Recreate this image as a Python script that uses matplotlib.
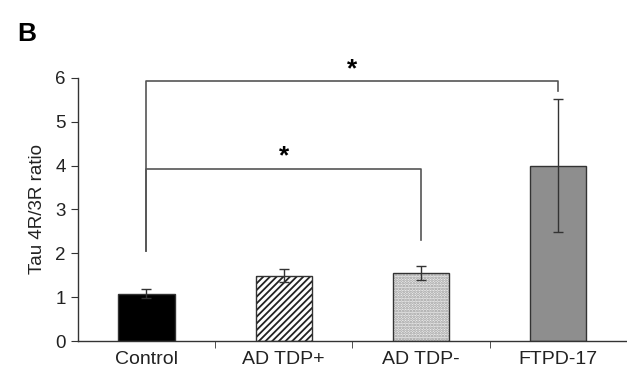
import numpy as np
import matplotlib
matplotlib.use("Agg")
import matplotlib.pyplot as plt

plt.rcParams['font.family'] = ['Liberation Sans', 'DejaVu Sans']
plt.rcParams['hatch.linewidth'] = 1.3

groups = ["Control", "AD TDP+", "AD TDP-", "FTPD-17"]
ratio = [1.08, 1.49, 1.55, 4.0]
err = [0.11, 0.15, 0.16, 1.52]
fills = ["black", "white", "#ececec", "#8e8e8e"]
hatches = [None, "/////", "......", None]
hatch_cols = [None, "#222222", "#9a9a9a", None]

# significance brackets: (from, to, height, left drop, right drop)
brackets = [(0, 3, 5.93, 2.05, 5.7), (0, 2, 3.93, 2.05, 2.3)]

fig = plt.figure(figsize=(6.27, 3.76), dpi=100)
ax = fig.add_axes([0.124, 0.093, 0.876, 0.70])

x = np.arange(len(groups))
for i in range(len(groups)):
    if hatches[i]:
        ax.bar(x[i], ratio[i], width=0.41, color=fills[i], edgecolor=hatch_cols[i],
               hatch=hatches[i], linewidth=0, zorder=2)
        ax.bar(x[i], ratio[i], width=0.41, fill=False, edgecolor="#333333",
               linewidth=1.0, zorder=2)
    else:
        ax.bar(x[i], ratio[i], width=0.41, color=fills[i], edgecolor="#333333",
               linewidth=1.0, zorder=2)
ax.errorbar(x, ratio, yerr=err, fmt='none', ecolor="#333333", elinewidth=1.0,
            capsize=3.5, capthick=1.0, zorder=3)

for a, b, h, dl, dr in brackets:
    ax.plot([x[a], x[a], x[b], x[b]], [dl, h, h, dr], color="#555555", lw=1.2, zorder=1)
    ax.text((x[a] + x[b]) / 2, h + 0.0, "*", ha='center', va='bottom',
            fontsize=19, fontweight='bold')

ax.set_xlim(-0.5, 3.5)
ax.set_ylim(0, 6)
ax.set_yticks(range(7))
ax.set_xticks(x)
ax.set_xticklabels(groups, fontsize=14, color="#222222")
ax.tick_params(axis='x', which='major', length=0, pad=7)
ax.set_xticks(x[:-1] + 0.5, minor=True)
ax.tick_params(axis='x', which='minor', length=5, direction='out', color="#333333")
ax.tick_params(axis='y', labelsize=13.5, length=5, color="#333333", labelcolor="#222222")
ax.set_ylabel("Tau 4R/3R ratio", fontsize=13.5, color="#222222", labelpad=7)
for s in ['top', 'right']:
    ax.spines[s].set_visible(False)
for s in ['left', 'bottom']:
    ax.spines[s].set_color("#333333")
    ax.spines[s].set_linewidth(1.0)

fig.text(0.028, 0.89, "B", fontsize=19, fontweight='bold')

fig.savefig("out.png", dpi=100)
